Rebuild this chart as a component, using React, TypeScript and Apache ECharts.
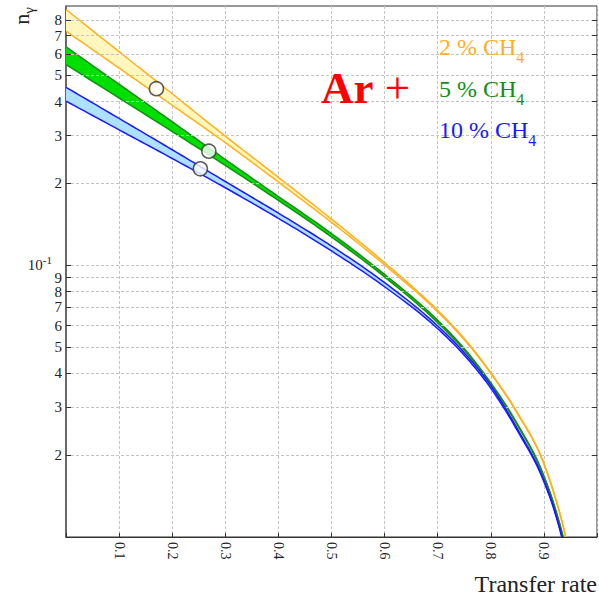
import React, { useEffect, useRef } from 'react';
import * as echarts from 'echarts';

const SERIF = '"Liberation Serif", "DejaVu Serif", serif';

// transfer rate samples
const xs = [0, 0.1, 0.2, 0.3, 0.4, 0.5, 0.6, 0.7, 0.75, 0.8, 0.85, 0.9, 0.92, 0.94, 0.96];

// 2 % CH4 band
const ch4_2_upper = [0.874, 0.611, 0.4279, 0.2986, 0.2107, 0.1479, 0.1023, 0.0682, 0.05375, 0.04025, 0.0287, 0.01869, 0.01432, 0.01024, 0.00635];
const ch4_2_lower = [0.7276, 0.5317, 0.3881, 0.2826, 0.2025, 0.1439, 0.1003, 0.0674, 0.05321, 0.03993, 0.02848, 0.01855, 0.0142, 0.01016, 0.00629];
// 5 % CH4 band
const ch4_5_upper = [0.6366, 0.4638, 0.3376, 0.2451, 0.1791, 0.1309, 0.09257, 0.06271, 0.04937, 0.03696, 0.02609, 0.0168, 0.01301, 0.00934, 0.00596];
const ch4_5_lower = [0.5478, 0.4127, 0.3106, 0.2331, 0.1732, 0.1271, 0.09056, 0.06147, 0.04869, 0.03652, 0.02583, 0.01664, 0.01289, 0.00924, 0.0059];
// 10 % CH4 band
const ch4_10_upper = [0.4519, 0.3471, 0.2662, 0.2034, 0.1556, 0.1177, 0.08634, 0.05981, 0.0477, 0.03605, 0.02503, 0.01618, 0.01258, 0.00892, 0.00543];
const ch4_10_lower = [0.4019, 0.3151, 0.2472, 0.1929, 0.1488, 0.1129, 0.08336, 0.0584, 0.04667, 0.03527, 0.02463, 0.01598, 0.01243, 0.00882, 0.00537];

// open circle markers
const markerPoints = [
  [0.1703, 0.4466],
  [0.269, 0.263],
  [0.253, 0.2264],
];

// y axis tick labels
const yMinorTicks = [0.02, 0.03, 0.04, 0.05, 0.06, 0.07, 0.08, 0.09, 0.2, 0.3, 0.4, 0.5, 0.6, 0.7, 0.8];
const yMinorLabels = ['2', '3', '4', '5', '6', '7', '8', '9', '2', '3', '4', '5', '6', '7', '8'];
const yDecades = [0.01, 0.1];
const yDecadeExponents = ['-2', '-1'];

const legendLabels = ['2 % CH', '5 % CH', '10 % CH'];
const legendSub = '4';

const ORANGE = '#FFB01E';
const GREEN = '#138F13';
const BLUE = '#1A1AFF';

// smooth curve through pixel points (cubic Hermite, x monotone)
function smoothPath(pts: number[][], steps = 12): number[][] {
  const n = pts.length;
  const m: number[] = [];
  for (let i = 0; i < n; i++) {
    if (i === 0) m.push((pts[1][1] - pts[0][1]) / (pts[1][0] - pts[0][0]));
    else if (i === n - 1) m.push((pts[n - 1][1] - pts[n - 2][1]) / (pts[n - 1][0] - pts[n - 2][0]));
    else {
      const h0 = pts[i][0] - pts[i - 1][0];
      const h1 = pts[i + 1][0] - pts[i][0];
      const d0 = (pts[i][1] - pts[i - 1][1]) / h0;
      const d1 = (pts[i + 1][1] - pts[i][1]) / h1;
      m.push((d0 * h1 + d1 * h0) / (h0 + h1));
    }
  }
  const out: number[][] = [];
  for (let i = 0; i < n - 1; i++) {
    const [x0, y0] = pts[i];
    const [x1, y1] = pts[i + 1];
    const h = x1 - x0;
    for (let s = 0; s < steps; s++) {
      const t = s / steps;
      const t2 = t * t;
      const t3 = t2 * t;
      const y =
        (2 * t3 - 3 * t2 + 1) * y0 + (t3 - 2 * t2 + t) * h * m[i] + (-2 * t3 + 3 * t2) * y1 + (t3 - t2) * h * m[i + 1];
      out.push([x0 + t * h, y]);
    }
  }
  out.push(pts[n - 1]);
  return out;
}

function band(name: string, upper: number[], lower: number[], line: string, fill: string, z: number) {
  return {
    type: 'custom',
    name,
    coordinateSystem: 'cartesian2d',
    clip: true,
    z,
    silent: true,
    data: xs.map((x, i) => [x, lower[i], upper[i]]),
    encode: { x: 0, y: [1, 2] },
    renderItem: (params: any, api: any) => {
      if (params.dataIndex !== 0) return null;
      const up = smoothPath(xs.map((x, i) => api.coord([x, upper[i]])));
      const lo = smoothPath(xs.map((x, i) => api.coord([x, lower[i]])));
      return {
        type: 'group',
        children: [
          {
            type: 'polygon',
            shape: { points: up.concat(lo.slice().reverse()) },
            style: { fill, stroke: 'none' },
          },
          { type: 'polyline', shape: { points: up }, style: { stroke: line, lineWidth: 1.5, fill: 'none' } },
          { type: 'polyline', shape: { points: lo }, style: { stroke: line, lineWidth: 1.5, fill: 'none' } },
        ],
      };
    },
  };
}

export default function App() {
  const ref = useRef<HTMLDivElement>(null);
  useEffect(() => {
    document.body.style.margin = '0';
    const chart = echarts.init(ref.current!, null, { renderer: 'svg' });
    const gridLine = { color: '#c4c4c4', type: [3, 2], width: 1 };
    const tickLen = 0.0094;
    const tickData: any[] = [];
    [...yMinorTicks, ...yDecades].forEach((v) => {
      tickData.push([{ coord: [0, v] }, { coord: [tickLen, v] }]);
      tickData.push([{ coord: [1 - tickLen, v] }, { coord: [1, v] }]);
    });
    const labelRich = {
      ten: { fontSize: 15, fontFamily: SERIF, color: '#222', lineHeight: 22 },
      exp: { fontSize: 11, fontFamily: SERIF, color: '#222', verticalAlign: 'top' },
    };
    const legendColors = [ORANGE, GREEN, BLUE];
    const legendY = [47, 89, 130];
    const option: any = {
      animation: false,
      backgroundColor: '#fff',
      grid: { left: 66, top: 6, right: 2, bottom: 65, show: true, borderColor: '#333', borderWidth: 1 },
      xAxis: {
        type: 'value',
        min: 0,
        max: 1,
        interval: 0.1,
        axisLine: { show: true, lineStyle: { color: '#333', width: 1 } },
        axisTick: { show: true, inside: true, length: 4, lineStyle: { color: '#333' } },
        axisLabel: {
          rotate: -90,
          margin: 5,
          fontFamily: SERIF,
          fontSize: 14,
          color: '#222',
          formatter: (v: number) => (v > 0.001 && v < 0.999 ? v.toFixed(1) : ''),
        },
        splitLine: { show: true, lineStyle: gridLine },
      },
      yAxis: {
        type: 'log',
        logBase: 10,
        min: 0.01,
        max: 0.9,
        axisLine: { show: true, lineStyle: { color: '#555', width: 1.5 } },
        axisTick: { show: false },
        axisLabel: { show: false },
        splitLine: { show: false },
      },
      series: [
        {
          type: 'line',
          name: 'grid',
          data: [],
          z: 1,
          silent: true,
          markLine: {
            silent: true,
            symbol: ['none', 'none'],
            lineStyle: gridLine,
            label: { show: true, position: 'start', fontFamily: SERIF, fontSize: 15, color: '#222' },
            data: [
              ...yMinorTicks.map((v, i) => ({ yAxis: v, label: { formatter: yMinorLabels[i], distance: 4 } })),
              ...yDecades.map((v, i) => ({
                yAxis: v,
                lineStyle: i === 0 ? { opacity: 0 } : gridLine,
                label: { formatter: '{ten|10}{exp|' + yDecadeExponents[i] + '}', distance: 14, rich: labelRich },
              })),
            ],
          },
        },
        {
          type: 'line',
          name: 'ticks',
          data: [],
          z: 6,
          silent: true,
          markLine: {
            silent: true,
            symbol: ['none', 'none'],
            lineStyle: { color: '#333', type: 'solid', width: 1 },
            label: { show: false },
            data: tickData,
          },
        },
        band('ch4_2', ch4_2_upper, ch4_2_lower, ORANGE, '#FFF7BE', 3),
        band('ch4_5', ch4_5_upper, ch4_5_lower, GREEN, '#00E000', 4),
        band('ch4_10', ch4_10_upper, ch4_10_lower, BLUE, '#AEE0FF', 5),
        {
          type: 'scatter',
          name: 'markers',
          data: markerPoints,
          symbol: 'circle',
          symbolSize: 14,
          z: 10,
          itemStyle: { color: '#fff', borderColor: '#333', borderWidth: 1.6 },
          silent: true,
        },
      ],
      graphic: [
        {
          type: 'text',
          x: 21,
          y: 16,
          z: 100,
          rotation: Math.PI / 2,
          style: {
            text: '{n|n}{g|γ}',
            textAlign: 'center',
            textVerticalAlign: 'middle',
            rich: {
              n: { fontSize: 22, fontFamily: SERIF, fill: '#222', lineHeight: 30 },
              g: { fontSize: 15, fontFamily: SERIF, fill: '#222', verticalAlign: 'bottom' },
            },
          },
        },
        {
          type: 'text',
          right: 2,
          top: 572,
          z: 100,
          style: { text: 'Transfer rate', fontSize: 24, fontFamily: SERIF, fill: '#222' },
        },
        {
          type: 'text',
          x: 321,
          y: 88,
          z: 100,
          style: {
            text: '{ar|Ar}{pl| +}',
            textVerticalAlign: 'middle',
            rich: {
              ar: { fontSize: 45, fontWeight: 'bold', fontFamily: SERIF, fill: '#FF0000' },
              pl: { fontSize: 45, fontFamily: SERIF, fill: '#FF0000' },
            },
          },
        },
        ...legendLabels.map((t, i) => ({
          type: 'text',
          x: 439,
          y: legendY[i],
          z: 100,
          style: {
            text: '{m|' + t + '}{s|' + legendSub + '}',
            textVerticalAlign: 'middle',
            rich: {
              m: { fontSize: 24, fontFamily: SERIF, fill: legendColors[i], lineHeight: 36 },
              s: { fontSize: 16, fontFamily: SERIF, fill: legendColors[i], verticalAlign: 'bottom' },
            },
          },
        })),
      ],
    };
    chart.setOption(option);
    return () => chart.dispose();
  }, []);
  return <div ref={ref} style={{ position: 'absolute', left: 0, top: 0, width: 599, height: 602 }} />;
}
